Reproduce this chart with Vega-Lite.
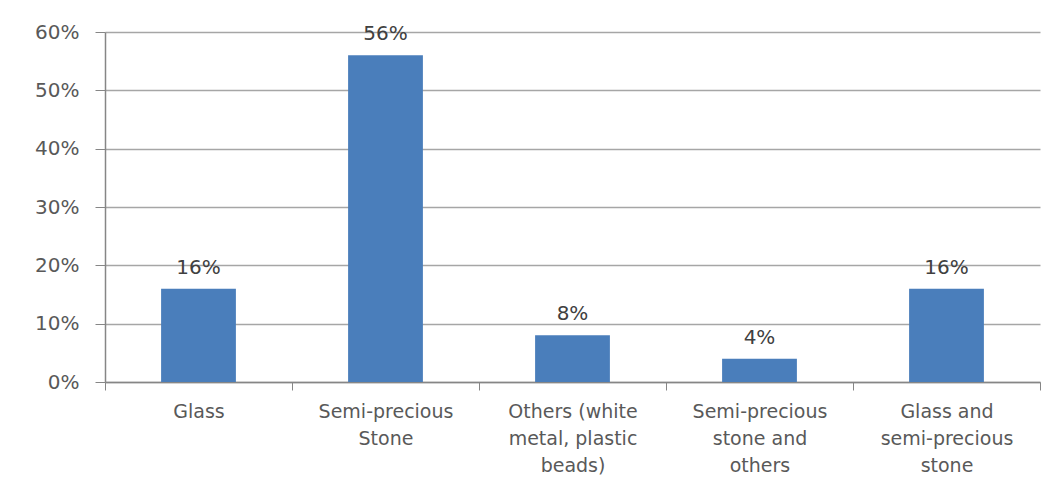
{
  "$schema": "https://vega.github.io/schema/vega-lite/v6.json",
  "width": 935,
  "height": 350,
  "autosize": {"type": "none"},
  "padding": {"left": 105, "top": 32, "right": 17, "bottom": 108},
  "background": "white",
  "config": {
    "view": {"stroke": null},
    "font": "DejaVu Sans"
  },
  "data": {
    "values": [
      {"category": "Glass", "share": 0.16},
      {"category": "Semi-precious Stone", "share": 0.56},
      {"category": "Others (white metal, plastic beads)", "share": 0.08},
      {"category": "Semi-precious stone and others", "share": 0.04},
      {"category": "Glass and semi-precious stone", "share": 0.16}
    ]
  },
  "encoding": {
    "x": {
      "field": "category",
      "type": "nominal",
      "sort": null,
      "title": null,
      "scale": {"paddingInner": 0, "paddingOuter": 0},
      "axis": {
        "labelAngle": 0,
        "labelFont": "DejaVu Sans",
        "labelFontSize": 19,
        "labelColor": "#595959",
        "labelLineHeight": 27,
        "labelPadding": 12,
        "labelBaseline": "top",
        "tickBand": "extent",
        "tickSize": 8,
        "tickColor": "#868686",
        "domainColor": "#868686",
        "domainWidth": 1.5,
        "labelExpr": "datum.value == 'Semi-precious Stone' ? ['Semi-precious', 'Stone'] : datum.value == 'Others (white metal, plastic beads)' ? ['Others (white', 'metal, plastic', 'beads)'] : datum.value == 'Semi-precious stone and others' ? ['Semi-precious', 'stone and', 'others'] : datum.value == 'Glass and semi-precious stone' ? ['Glass and', 'semi-precious', 'stone'] : datum.value"
      }
    },
    "y": {
      "field": "share",
      "type": "quantitative",
      "title": null,
      "scale": {"domain": [0, 0.6], "nice": false},
      "axis": {
        "format": ".0%",
        "values": [0, 0.1, 0.2, 0.3, 0.4, 0.5, 0.6],
        "labelFont": "DejaVu Sans",
        "labelFontSize": 20,
        "labelColor": "#595959",
        "labelPadding": 16,
        "tickSize": 10,
        "tickColor": "#868686",
        "domainColor": "#868686",
        "domainWidth": 1.5,
        "grid": true,
        "gridColor": "#A6A6A6",
        "gridWidth": 1.5
      }
    }
  },
  "layer": [
    {
      "mark": {"type": "bar", "color": "#4A7EBB", "width": {"band": 0.4}}
    },
    {
      "mark": {"type": "text", "dy": -15, "fontSize": 20, "font": "DejaVu Sans", "color": "#404040", "baseline": "alphabetic"},
      "encoding": {
        "text": {"field": "share", "type": "quantitative", "format": ".0%"}
      }
    }
  ]
}
